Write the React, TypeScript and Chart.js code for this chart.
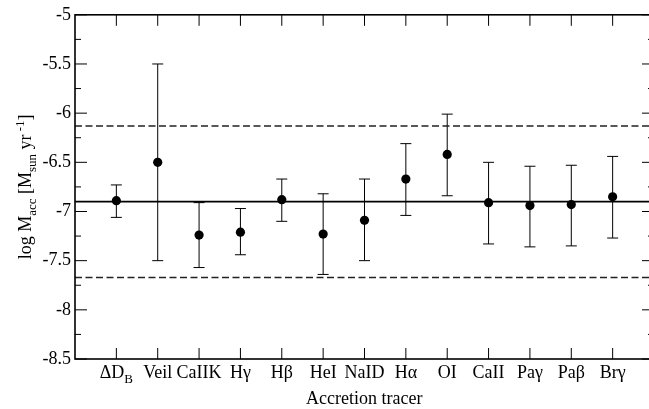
import React, { useEffect, useRef } from 'react';
import { Chart, registerables } from 'chart.js';

Chart.register(...registerables);

// Accretion tracers (main text + optional subscript)
const tracers = ['ΔD', 'Veil', 'CaIIK', 'Hγ', 'Hβ', 'HeI', 'NaID', 'Hα', 'OI', 'CaII', 'Paγ', 'Paβ', 'Brγ'];
const tracerSubs = ['B', '', '', '', '', '', '', '', '', '', '', '', ''];

// log Macc per tracer and its error-bar ends
const logMacc = [-6.89, -6.5, -7.24, -7.21, -6.88, -7.23, -7.09, -6.67, -6.42, -6.91, -6.94, -6.93, -6.85];
const errHigh = [-6.73, -5.5, -6.91, -6.97, -6.67, -6.82, -6.67, -6.31, -6.01, -6.5, -6.54, -6.53, -6.44];
const errLow = [-7.06, -7.5, -7.57, -7.44, -7.1, -7.64, -7.5, -7.04, -6.84, -7.33, -7.36, -7.35, -7.27];

// Mean accretion rate and its spread
const meanLogMacc = -6.9;
const spreadHigh = -6.13;
const spreadLow = -7.67;

const yMin = -8.5;
const yMax = -5;
const yStep = 0.5;
const yMinorStep = 0.25;

const FONT = "'Liberation Serif', 'Times New Roman', serif";
const FONT_SIZE = 18;
const SUB_SIZE = 13;

type Part = { t: string; s: number };

function drawParts(ctx: CanvasRenderingContext2D, parts: Part[], cx: number, baseY: number) {
  const fontFor = (s: number) => `${s === 0 ? FONT_SIZE : SUB_SIZE}px ${FONT}`;
  let total = 0;
  const widths = parts.map((p) => {
    ctx.font = fontFor(p.s);
    const w = ctx.measureText(p.t).width;
    total += w;
    return w;
  });
  let x = cx - total / 2;
  parts.forEach((p, i) => {
    ctx.font = fontFor(p.s);
    const dy = p.s === 1 ? 5 : p.s === 2 ? -7 : 0;
    ctx.fillText(p.t, x, baseY + dy);
    x += widths[i];
  });
}

const axesPlugin = {
  id: 'axesPlugin',
  beforeDatasetsDraw(chart: any) {
    const { ctx, scales } = chart;
    const x = scales.x;
    const y = scales.y;
    ctx.save();
    ctx.strokeStyle = '#000';
    ctx.lineWidth = 1;
    const cap = 5.5;
    logMacc.forEach((_, i) => {
      const px = x.getPixelForValue(i + 1);
      const top = y.getPixelForValue(errHigh[i]);
      const bot = y.getPixelForValue(errLow[i]);
      ctx.beginPath();
      ctx.moveTo(px, top);
      ctx.lineTo(px, bot);
      ctx.moveTo(px - cap, top);
      ctx.lineTo(px + cap, top);
      ctx.moveTo(px - cap, bot);
      ctx.lineTo(px + cap, bot);
      ctx.stroke();
    });
    ctx.restore();
  },
  afterDraw(chart: any) {
    const { ctx, chartArea, scales } = chart;
    const x = scales.x;
    const y = scales.y;
    const { left, right, top, bottom } = chartArea;
    ctx.save();

    // ticks (pointing inward on all four sides)
    ctx.strokeStyle = '#000';
    ctx.lineWidth = 1;
    ctx.beginPath();
    for (let v = yMin; v <= yMax + 1e-9; v += yMinorStep) {
      const major = Math.abs(v / yStep - Math.round(v / yStep)) < 1e-6;
      const len = major ? 12 : 6;
      const py = y.getPixelForValue(v);
      ctx.moveTo(left, py);
      ctx.lineTo(left + len, py);
      ctx.moveTo(right, py);
      ctx.lineTo(right - len, py);
    }
    tracers.forEach((_, i) => {
      const px = x.getPixelForValue(i + 1);
      ctx.moveTo(px, bottom);
      ctx.lineTo(px, bottom - 11);
      ctx.moveTo(px, top);
      ctx.lineTo(px, top + 11);
    });
    ctx.stroke();

    // frame
    ctx.lineWidth = 1.6;
    ctx.strokeRect(left, top, right - left, bottom - top);

    // category labels
    ctx.fillStyle = '#000';
    ctx.textBaseline = 'alphabetic';
    ctx.textAlign = 'left';
    tracers.forEach((t, i) => {
      const px = x.getPixelForValue(i + 1);
      const parts: Part[] = [{ t, s: 0 }];
      if (tracerSubs[i]) parts.push({ t: tracerSubs[i], s: 1 });
      drawParts(ctx, parts, px, bottom + 19);
    });

    // x title
    drawParts(ctx, [{ t: 'Accretion tracer', s: 0 }], (left + 14 * 41.33 / 2), bottom + 45);

    // y title, rotated
    ctx.save();
    ctx.translate(31, (top + bottom) / 2);
    ctx.rotate(-Math.PI / 2);
    drawParts(
      ctx,
      [
        { t: 'log M', s: 0 },
        { t: 'acc', s: 1 },
        { t: ' [M', s: 0 },
        { t: 'sun', s: 1 },
        { t: ' yr', s: 0 },
        { t: ' -1', s: 2 },
        { t: ']', s: 0 },
      ],
      0,
      0
    );
    ctx.restore();

    ctx.restore();
  },
};

export default function App() {
  const canvasRef = useRef<HTMLCanvasElement | null>(null);

  useEffect(() => {
    const canvas = canvasRef.current;
    if (!canvas) return;

    const points = logMacc.map((v, i) => ({ x: i + 1, y: v }));
    const hLine = (v: number) => [
      { x: 0, y: v },
      { x: tracers.length + 1, y: v },
    ];

    const chart = new Chart(canvas, {
      type: 'scatter',
      data: {
        datasets: [
          {
            type: 'line',
            data: hLine(meanLogMacc),
            borderColor: '#000',
            borderWidth: 1.6,
            pointRadius: 0,
            order: 3,
          } as any,
          {
            type: 'line',
            data: hLine(spreadHigh),
            borderColor: '#222',
            borderWidth: 1.5,
            borderDash: [7, 3.5],
            pointRadius: 0,
            order: 3,
          } as any,
          {
            type: 'line',
            data: hLine(spreadLow),
            borderColor: '#222',
            borderWidth: 1.5,
            borderDash: [7, 3.5],
            pointRadius: 0,
            order: 3,
          } as any,
          {
            data: points,
            backgroundColor: '#000',
            borderWidth: 0,
            pointRadius: 4.6,
            order: 1,
          },
        ],
      },
      options: {
        animation: false,
        responsive: false,
        devicePixelRatio: 1,
        layout: { padding: { left: 0, top: 11, right: 8, bottom: 0 } },
        plugins: {
          legend: { display: false },
          tooltip: { enabled: false },
        },
        scales: {
          x: {
            type: 'linear',
            min: 0,
            max: tracers.length + 1,
            grid: { display: false, drawTicks: false },
            border: { display: false },
            ticks: { display: false },
            afterFit: (s: any) => {
              s.height = 50;
            },
          },
          y: {
            type: 'linear',
            min: yMin,
            max: yMax,
            grid: { display: false, drawTicks: false },
            border: { display: false },
            ticks: {
              stepSize: yStep,
              padding: 4,
              color: '#000',
              font: { family: FONT, size: FONT_SIZE },
              callback: (v: any) => String(v),
            },
            afterFit: (s: any) => {
              s.width = 75;
            },
          },
        },
      },
      plugins: [axesPlugin],
    });

    return () => chart.destroy();
  }, []);

  return (
    <div
      style={{
        position: 'absolute',
        left: 0,
        top: 0,
        width: 649,
        height: 409,
        overflow: 'hidden',
        background: '#fff',
      }}
    >
      <canvas ref={canvasRef} width={662} height={409} style={{ display: 'block' }} />
    </div>
  );
}
